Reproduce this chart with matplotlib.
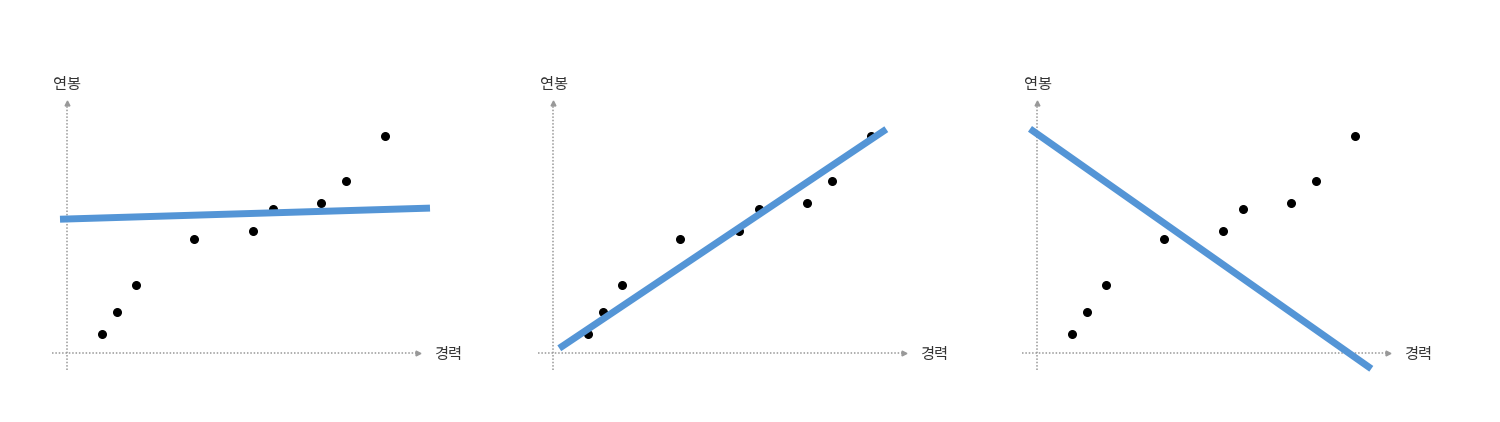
import numpy as np
import matplotlib.pyplot as plt

plt.rcParams['font.family'] = ['Noto Sans CJK KR', 'DejaVu Sans']

# data: experience vs salary (same points in every panel)
career = [3.5, 5.0, 6.9, 12.7, 18.6, 20.6, 25.4, 27.9, 31.8]
salary = [1.9, 4.1, 6.8, 11.4, 12.2, 14.4, 15.0, 17.2, 21.7]

# candidate fitted lines: slope, intercept and x span for each panel
slopes = [0.03, 0.67, -0.703]
intercepts = [13.4, 0.07, 21.9]
line_start = [-0.7, 0.6, -0.73]
line_end = [36.3, 33.3, 33.4]

x_label = "경력"
y_label = "연봉"

W, H = 1500, 422
fig = plt.figure(figsize=(15, 4.22), dpi=100)

# origin of each panel in pixels (10 px per data unit)
origins_px = [67, 553.3, 1037.3]

for i in range(3):
    left_px = origins_px[i] - 27
    ax = fig.add_axes([left_px / W, (H - 400) / H, 430 / W, 340 / H])
    ax.set_xlim(-2.7, 40.3)
    ax.set_ylim(-4.7, 29.3)
    ax.axis('off')

    # dotted axes with small arrow heads
    ax.plot([-1.5, 35.0], [0, 0], linestyle=(0, (1, 1.2)), color='#999999', lw=1.1)
    ax.plot([0, 0], [-1.7, 24.9], linestyle=(0, (1, 1.2)), color='#999999', lw=1.1)
    ax.plot(35.1, 0, marker='>', ms=3.5, color='#999999')
    ax.plot(0, 25.0, marker='^', ms=3.5, color='#999999')

    ax.text(38.1, -0.2, x_label, ha='center', va='center', fontsize=11, color='#333333')
    ax.text(0.05, 26.9, y_label, ha='center', va='center', fontsize=11, color='#333333')

    ax.scatter(career, salary, s=30, color='black', zorder=3)

    xs = np.array([line_start[i], line_end[i]])
    ax.plot(xs, slopes[i] * xs + intercepts[i], color='#5495d6', lw=5,
            solid_capstyle='butt', zorder=4)

plt.savefig('out.png', dpi=100)
